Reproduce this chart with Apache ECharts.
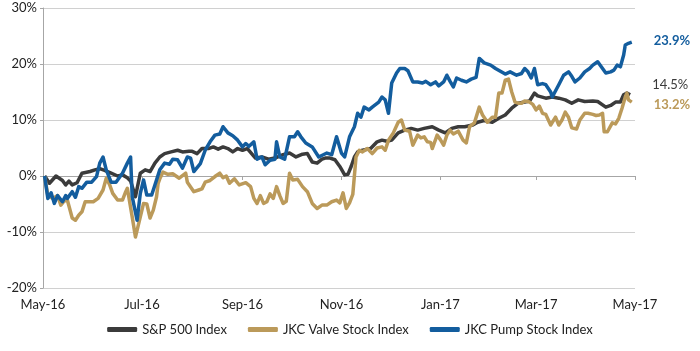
<!DOCTYPE html>
<html>
<head>
<meta charset="utf-8">
<script src="https://cdn.jsdelivr.net/npm/echarts@6/dist/echarts.min.js"></script>
<style>
  html, body { margin: 0; padding: 0; background: #fff; }
  #chart { width: 700px; height: 351px; }
</style>
</head>
<body>
<div id="chart"></div>
<script>
// x positions are days since 2016-05-01
let tickDays = [0, 61, 123, 184, 245, 304, 365];
let tickLabels = ['May-16', 'Jul-16', 'Sep-16', 'Nov-16', 'Jan-17', 'Mar-17', 'May-17'];
let seriesNames = ['S&P 500 Index', 'JKC Valve Stock Index', 'JKC Pump Stock Index'];

// [day, % change]
let spData = [[1,0],[4,-1.3],[8,0],[12,-0.8],[14,-1.6],[16,-0.9],[18,-1.6],[21,-1.2],[24,0.5],[29,0.8],
  [32,1.1],[35,1.3],[38,1.0],[42,0.5],[46,0],[49,0.2],[52,-0.3],[54,-0.9],[57,-3.7],[60,0.5],
  [63,1.1],[66,0.8],[69,2.3],[72,3.4],[75,4.0],[79,4.3],[83,4.6],[86,4.3],[90,4.4],[92,4.4],
  [95,4.0],[98,4.9],[102,4.9],[105,5.2],[108,4.8],[111,5.2],[114,4.9],[117,4.3],[120,4.9],[123,4.6],
  [126,4.9],[131,3.2],[135,3.4],[139,3.0],[143,3.2],[148,3.8],[152,4.1],[156,3.4],[160,3.9],[163,4.0],
  [166,2.5],[169,2.3],[172,3.0],[174,3.2],[177,3.2],[180,2.9],[183,1.7],[186,0.2],[188,0.3],[190,1.7],
  [192,3.4],[194,4.3],[197,4.6],[202,4.9],[206,6.1],[209,6.4],[212,6.2],[215,6.4],[219,7.7],[223,8.2],
  [227,8.5],[231,8.2],[235,8.5],[240,8.8],[244,8.2],[248,7.7],[252,8.5],[256,8.8],[260,8.8],[265,9.1],
  [268,9.6],[272,9.9],[277,9.6],[281,10.3],[285,10.9],[289,12.1],[293,13.0],[297,13.2],[300,13.4],[303,14.8],
  [305,14.3],[310,13.9],[314,14.1],[318,13.9],[322,13.6],[326,13.0],[330,13.6],[334,13.3],[339,13.4],[342,13.3],
  [347,12.3],[350,12.6],[353,13.2],[356,13.2],[358,14.5],[360,14.8],[362,14.5]];

let valveData = [[1,0],[3,-3.5],[6,-4],[9,-3.5],[11,-5.2],[13,-4.5],[15,-4.3],[18,-7.5],[20,-7.9],[22,-7],
  [24,-6.4],[26,-4.6],[31,-4.6],[34,-4],[37,-2.5],[39,-0.4],[41,-1.5],[43,-3.1],[46,-4.3],[49,-4.3],
  [51,-2.8],[52,-2.2],[55,-7.3],[57,-10.9],[60,-7.3],[62,-4.9],[64,-5.0],[66,-7.5],[68,-6.1],[70,-3.7],
  [71,-1.3],[72,-0.5],[74,0.7],[77,0.3],[80,0.4],[84,-0.4],[88,0.5],[89,-1.1],[93,-2.8],[96,-2.5],
  [98,-2.3],[100,-1.1],[103,-0.8],[106,-0.1],[109,0.5],[111,-0.3],[113,0.0],[115,-1.3],[118,-0.5],[121,-1.6],
  [125,-1.2],[128,-1.9],[130,-4],[132,-4.9],[134,-3.5],[136,-4.9],[138,-4.6],[140,-3.2],[142,-4.0],[144,-1.9],
  [146,-3.5],[148,-4.9],[150,-4.5],[152,0.5],[154,-0.7],[157,-0.6],[160,-1.9],[163,-2.8],[166,-4.9],[169,-5.8],
  [172,-5.2],[175,-5.2],[178,-4.6],[181,-4.3],[183,-4.8],[185,-3],[187,-5.8],[189,-4.8],[191,-3.3],[193,3.4],
  [195,4.6],[197,4.3],[200,4.9],[203,4.0],[206,5.0],[209,5.2],[211,4.6],[213,6.4],[216,7.7],[219,9.6],
  [221,10.0],[223,8.2],[226,8.0],[228,5.5],[231,7.3],[233,6.8],[235,7.0],[237,6.1],[239,6.0],[240,4.9],
  [243,7.3],[245,6.5],[247,5.5],[249,7.3],[251,8.2],[253,7.5],[256,8.0],[259,6.4],[261,5.9],[263,8.8],
  [266,9.5],[269,12.3],[271,10.9],[274,9.6],[277,10.5],[279,10.5],[281,14.8],[283,14.8],[285,17.1],[287,17.3],
  [288,17.5],[289,15.0],[291,13.2],[293,13.0],[295,13.0],[297,13.4],[300,13.2],[302,12.8],[304,11.8],[306,12.5],
  [308,11.2],[310,11.0],[313,9.1],[316,10.5],[318,9.1],[320,10.0],[322,11.4],[324,10.5],[326,8.6],[329,8.4],
  [331,10.0],[334,11.2],[336,11.2],[339,11.0],[341,10.8],[343,10.9],[345,11.2],[346,7.9],[348,7.9],[351,9.5],
  [353,9.3],[355,10.3],[357,12.1],[359,14.1],[360,14.8],[361,13.6],[363,13.2]];

let pumpData = [[1,0],[3,-4],[5,-3],[7,-4.9],[9,-3.5],[12,-4.6],[14,-3.5],[15,-4],[18,-2.8],[20,-3.8],
  [22,-1.9],[24,-2.2],[27,-1.1],[30,-1.1],[33,-0.1],[35,2.3],[37,3.4],[39,1.1],[42,-1.1],[45,-1.1],
  [49,0.5],[52,2.3],[54,3.4],[55,-3.7],[58,-7.9],[60,-3.1],[62,-0.7],[64,-3.4],[67,-3.4],[69,-1.6],
  [72,1.1],[75,2.3],[78,2.1],[80,3.0],[83,2.9],[86,1.4],[89,3.4],[91,3.2],[93,0.8],[97,2.2],
  [100,4.6],[103,6.1],[106,7.3],[109,7.5],[111,8.8],[114,7.7],[117,7.2],[120,6.4],[123,5.2],[125,5.8],
  [127,5.3],[130,6.1],[132,3.0],[135,3.4],[137,2.0],[140,2.8],[143,3.0],[144,6.1],[146,3.4],[149,3.0],
  [152,7.0],[155,7.0],[157,7.9],[159,7.0],[162,5.9],[166,5.2],[170,3.4],[175,4.1],[178,3.8],[181,7.0],
  [184,4.1],[186,3.4],[189,7.0],[192,8.8],[194,11.2],[196,10.5],[198,12.3],[201,11.8],[203,12.3],[207,13.2],
  [209,14.1],[211,13.6],[213,11.2],[215,16.6],[218,18.4],[220,19.2],[223,19.2],[225,18.8],[228,16.8],[231,16.8],
  [234,16.6],[236,16.9],[239,16.3],[242,16.8],[244,16.1],[247,16.8],[249,18.0],[251,16.9],[253,15.9],[255,17.5],
  [258,17.1],[261,16.8],[264,17.3],[267,17.6],[269,21.0],[272,20.2],[276,19.8],[279,19.2],[282,18.7],[285,18.2],
  [288,18.6],[292,18.0],[295,18.3],[297,19.2],[299,18.6],[301,17.5],[303,19.2],[305,16.3],[308,16.5],[310,16.3],
  [313,15.0],[314,14.1],[318,16.3],[321,18.0],[324,18.6],[326,17.8],[328,16.8],[331,17.5],[334,18.6],[337,19.2],
  [339,19.8],[342,20.4],[345,19.2],[347,18.4],[350,18.6],[352,18.9],[354,19.8],[356,19.5],[358,21.6],[359,23.4],
  [361,23.7],[363,23.9]];

let colors = ['#3b3b3b', '#bb9a5a', '#135d9e'];
let fontFamily = 'Lato, "Open Sans", sans-serif';

let myChart = echarts.init(document.getElementById('chart'));

function lineSeries(name, data, color, offsetY, bold) {
    return {
        name: name,
        type: 'line',
        data: data,
        showSymbol: false,
        symbol: 'none',
        lineStyle: {width: 3.5, color: color, join: 'round'},
        itemStyle: {color: color},
        animation: false,
        endLabel: {
            show: true,
            distance: 22,
            offset: [0, offsetY],
            color: color,
            fontFamily: fontFamily,
            fontSize: 13,
            fontWeight: bold ? 'bold' : 'normal',
            formatter: function (p) {
                return p.value[1].toFixed(1) + '%';
            }
        }
    };
}

myChart.setOption({
    backgroundColor: '#fff',
    animation: false,
    grid: {left: 43, right: 65, top: 8, bottom: 63, containLabel: false},
    legend: {
        bottom: 10,
        left: 'center',
        itemWidth: 30,
        itemHeight: 5,
        itemGap: 21,
        icon: 'roundRect',
        textStyle: {fontFamily: fontFamily, fontSize: 13, color: '#222'},
        data: seriesNames
    },
    xAxis: {
        type: 'value',
        min: 0,
        max: 365,
        axisLine: {show: true, lineStyle: {color: '#a6a6a6', width: 1}},
        axisTick: {show: true, length: 4, customValues: tickDays, lineStyle: {color: '#a6a6a6'}},
        splitLine: {show: false},
        axisLabel: {
            customValues: tickDays,
            margin: 10,
            fontFamily: fontFamily,
            fontSize: 13,
            color: '#222',
            formatter: function (v) {
                let i = tickDays.indexOf(v);
                return i >= 0 ? tickLabels[i] : '';
            }
        }
    },
    yAxis: {
        type: 'value',
        min: -20,
        max: 30,
        interval: 10,
        axisLine: {show: true, lineStyle: {color: '#a6a6a6', width: 1}},
        axisTick: {show: true, length: 3, lineStyle: {color: '#a6a6a6'}},
        splitLine: {show: true, lineStyle: {color: '#d0d0d0', width: 1}},
        axisLabel: {
            margin: 6,
            fontFamily: fontFamily,
            fontSize: 13,
            color: '#222',
            formatter: '{value}%'
        }
    },
    series: [
        lineSeries(seriesNames[0], spData, colors[0], -10, false),
        lineSeries(seriesNames[1], valveData, colors[1], 3, true),
        lineSeries(seriesNames[2], pumpData, colors[2], -1, true)
    ]
});
</script>
</body>
</html>
